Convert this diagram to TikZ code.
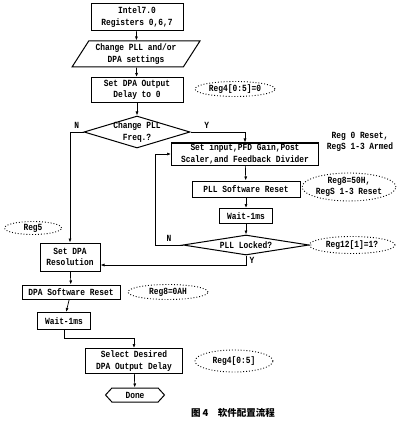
\documentclass[tikz,border=0pt]{standalone}
\usepackage{fontspec}
\setmonofont[FakeStretch=0.84]{Liberation Mono}
\newfontfamily\cjk{Noto Sans CJK SC}
\usetikzlibrary{arrows.meta,shapes.geometric,shapes.symbols}
\begin{document}
\begin{tikzpicture}[x=1pt,y=-1pt,>={Latex[length=4pt,width=3pt]},every node/.style={font=\ttfamily\bfseries\fontsize{9.4}{11.5}\selectfont,align=center},a/.style={->,line width=.7pt},box/.style={draw,line width=1pt,inner sep=0pt},dia/.style={draw,line width=1pt,diamond,inner xsep=0pt,inner ysep=-1.5pt},cloud/.style={draw,dotted,line width=.9pt,ellipse,inner sep=0pt}]
\useasboundingbox (0,0) rectangle (400,422);
\node[box,minimum width=92pt,minimum height=27pt] (ini) at (137,17) {Intel7.0\\Registers 0,6,7};
\node[draw,line width=1pt,trapezium,trapezium left angle=55,trapezium right angle=125,trapezium stretches,minimum width=128pt,minimum height=26pt,inner sep=0pt] (chg) at (136,54) {Change PLL and/or\\DPA settings};
\node[box,minimum width=92pt,minimum height=25pt] (dly) at (137,90) {Set DPA Output\\Delay to 0};
\node[cloud,minimum width=80pt,minimum height=15pt] (e40) at (235,89) {Reg4[0:5]=0};
\node[dia,aspect=3.3,minimum width=106pt,minimum height=32pt] (frq) at (137,132) {Change PLL\\Freq.?};
\node[box,minimum width=147pt,minimum height=22pt] (set) at (245,154) {Set input,PFD Gain,Post\\Scaler,and Feedback Divider};
\node (arm) at (360,142) {Reg 0 Reset,\\RegS 1-3 Armed};
\node[box,minimum width=108pt,minimum height=16pt] (psr) at (246,189) {PLL Software Reset};
\node[cloud,minimum width=93pt,minimum height=27pt] (e50) at (349,187) {Reg8=50H,\\RegS 1-3 Reset};
\node[box,minimum width=53pt,minimum height=15pt] (wt1) at (246,216) {Wait-1ms};
\node[dia,aspect=6.3,minimum width=126pt,minimum height=20pt] (lck) at (246,245) {PLL Locked?};
\node[cloud,minimum width=86pt,minimum height=17pt] (e12) at (352,245) {Reg12[1]=1?};
\node[cloud,minimum width=57pt,minimum height=13pt] (e5) at (33,228) {Reg5};
\node[box,minimum width=60pt,minimum height=28pt] (res) at (70,257) {Set DPA\\Resolution};
\node[box,minimum width=98pt,minimum height=14pt] (dsr) at (71,292) {DPA Software Reset};
\node[cloud,minimum width=80pt,minimum height=15pt] (e0a) at (168,292) {Reg8=0AH};
\node[box,minimum width=53pt,minimum height=17pt] (wt2) at (64,321) {Wait-1ms};
\node[box,minimum width=97pt,minimum height=25pt] (sel) at (134,361) {Select Desired\\DPA Output Delay};
\node[cloud,minimum width=78pt,minimum height=22pt] (e45) at (234,361) {Reg4[0:5]};
\node[draw,line width=1pt,signal,signal to=east and west,signal pointer angle=95,minimum width=59pt,minimum height=14pt,inner sep=0pt] (done) at (135,395) {Done};
\node[font=\cjk\bfseries\fontsize{9.5}{11}\selectfont] (cap) at (233,413) {图 4\quad 软件配置流程};
\draw[a] (ini)--(chg);\draw[a] (chg)--(dly);\draw[a] (dly)--(frq);
\draw[a] (frq.west)-|node[pos=.25,above]{N}(res.north);
\draw[a] (frq.east)-|node[pos=.15,above]{Y}(set.north);
\draw[a] (set)--(psr);\draw[a] (psr)--(wt1);\draw[a] (wt1)--(lck);
\draw[a] (lck.west)--node[above]{N}++(-27,0)|-(set.west);
\draw[a] (lck.south)|-node[pos=.25,right]{Y}([yshift=-8pt]res.east);
\draw[a] (res)--(dsr);\draw[a] (dsr)--(wt2);
\draw[a] (wt2.south)--++(0,8)-|(sel.north);
\draw[a] (sel)--(done);
\end{tikzpicture}
\end{document}
